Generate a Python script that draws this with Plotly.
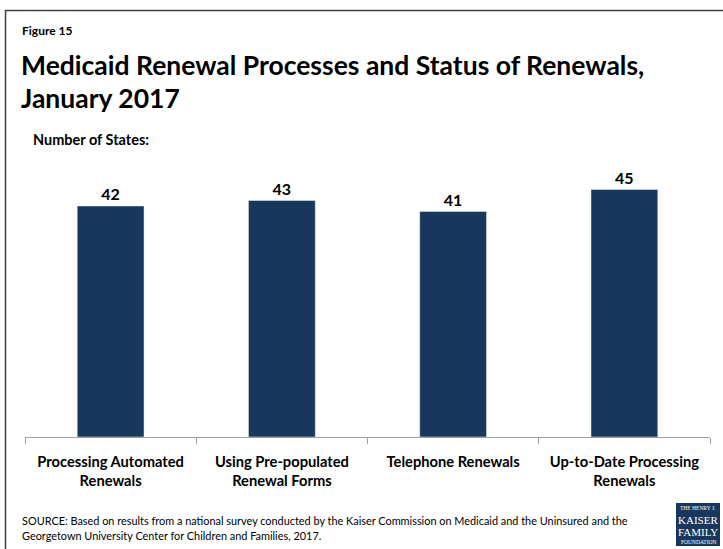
import plotly.graph_objects as go

categories = ["Processing Automated<br>Renewals", "Using Pre-populated<br>Renewal Forms",
              "Telephone Renewals", "Up-to-Date Processing<br>Renewals"]
values = [42, 43, 41, 45]

W, H = 723, 549
L, R, T, B = 25, 13, 162, 112
PW, PH = W - L - R, H - T - B
FONT = "Lato"
BAR = "#17375E"

def px(x):
    return (x - L) / PW

def py(y):
    return (H - B - y) / PH

fig = go.Figure(go.Bar(
    x=categories, y=values, marker_color=BAR, width=0.39,
    text=[f"<b>{v}</b>" for v in values], textposition="outside",
    textfont=dict(size=16, color="black", family=FONT), cliponaxis=False,
))

ann = []
def add(text, x, y, size, bold=True, xanchor="left", color="black", align="left"):
    ann.append(dict(text=(f"<b>{text}</b>" if bold else text), x=px(x), y=py(y), xref="paper", yref="paper",
                    showarrow=False, xanchor=xanchor, yanchor="middle", align=align,
                    font=dict(size=size, family=FONT, color=color)))

add("Figure 15", 20, 30, 12)
add("Medicaid Renewal Processes and Status of Renewals,", 19, 65, 26.5)
add("January 2017", 19, 98, 26.5)
add("Number of States:", 31, 140, 14.5)
add("SOURCE: Based on results from a national survey conducted by the Kaiser Commission on Medicaid and the Uninsured and the", 20, 520, 10.9, bold=False)
add("Georgetown University Center for Children and Families, 2017.", 20, 535, 10.9, bold=False)
# logo
add("THE HENRY J.", 698, 508, 5.5, bold=False, xanchor="center", color="white")
add("KAISER", 698, 520, 11, bold=False, xanchor="center", color="white")
add("FAMILY", 698, 532, 11, bold=False, xanchor="center", color="white")
add("FOUNDATION", 698, 542, 5.5, bold=False, xanchor="center", color="white")
for a in ann[-4:]:
    a["font"]["family"] = "Liberation Serif"

shapes = [
    dict(type="line", xref="paper", yref="paper", x0=px(5), x1=px(730), y0=py(10.5), y1=py(10.5),
         line=dict(color="#404040", width=1.5)),
    dict(type="line", xref="paper", yref="paper", x0=px(5.5), x1=px(5.5), y0=py(10), y1=py(560),
         line=dict(color="#404040", width=1.5)),
    dict(type="rect", xref="paper", yref="paper", x0=px(676), x1=px(720), y0=py(503), y1=py(546),
         fillcolor=BAR, line=dict(width=0), layer="below"),
]

fig.update_layout(
    width=W, height=H, margin=dict(l=L, r=R, t=T, b=B),
    paper_bgcolor="white", plot_bgcolor="white",
    showlegend=False, annotations=ann, shapes=shapes,
    font=dict(family=FONT),
    xaxis=dict(showline=True, linecolor="#A0A0A0", linewidth=1, ticks="outside", tickson="boundaries",
               ticklen=6, tickcolor="#A0A0A0", showgrid=False, tickangle=0, ticklabelstandoff=11,
               tickfont=dict(size=14.7, family=FONT, color="black", weight="bold")),
    yaxis=dict(range=[0, 50], visible=False, showgrid=False),
    bargap=0.61,
)

fig.write_html("out.html")
